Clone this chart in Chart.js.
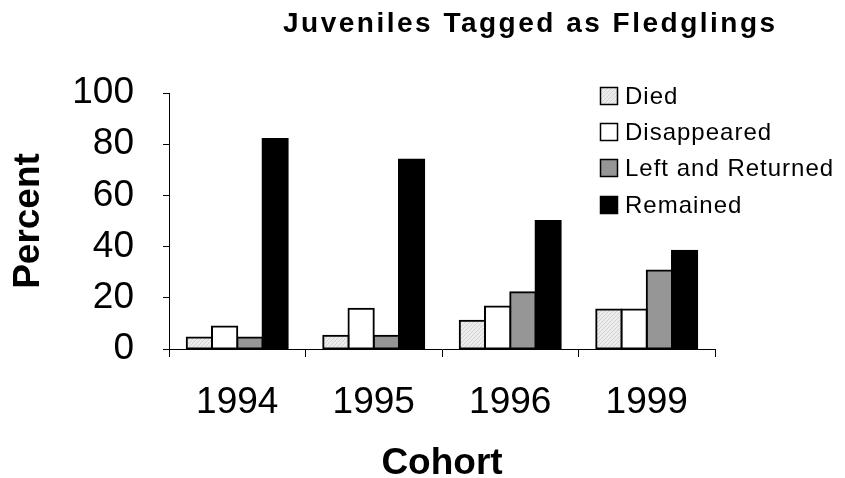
<!DOCTYPE html>
<html>
<head>
<meta charset="utf-8">
<script src="https://cdn.jsdelivr.net/npm/chart.js@4"></script>
<style>
  html, body { margin: 0; padding: 0; background: #fff; }
  #wrap { width: 845px; height: 478px; }
</style>
</head>
<body>
<div id="wrap"><canvas id="chart" width="845" height="478"></canvas></div>
<script>
const cohorts = ["1994", "1995", "1996", "1999"];
const died = [4.5, 5.2, 11, 15.4];
const disappeared = [8.8, 15.7, 16.6, 15.4];
const leftReturned = [4.5, 5.2, 22.2, 30.7];
const remained = [82, 74, 50, 38.4];
const yTicks = [0, 20, 40, 60, 80, 100];

// light hatched fill used for "Died"
function hatchPattern() {
    const c = document.createElement("canvas");
    c.width = 4; c.height = 4;
    const g = c.getContext("2d");
    g.fillStyle = "#ececec";
    g.fillRect(0, 0, 4, 4);
    g.fillStyle = "#d2d2d2";
    g.fillRect(0, 3, 1, 1);
    g.fillRect(1, 2, 1, 1);
    g.fillRect(2, 1, 1, 1);
    g.fillRect(3, 0, 1, 1);
    return g.createPattern(c, "repeat");
}
const diedFill = hatchPattern();

// shared bar look: outline centred on the edge so neighbours share one line
const barStyle = {
    borderColor: "#000",
    borderWidth: 2,
    inflateAmount: 1,
    borderSkipped: false,
    categoryPercentage: 0.74,
    barPercentage: 1.0
};

// title + legend drawn at fixed spots like the original
const extras = {
    id: "extras",
    afterDraw(chart) {
        const ctx = chart.ctx;
        ctx.save();
        ctx.fillStyle = "#000";
        ctx.font = "bold 28px 'Liberation Sans', Arial, sans-serif";
        ctx.letterSpacing = "2.5px";
        ctx.textAlign = "left";
        ctx.textBaseline = "alphabetic";
        ctx.fillText("Juveniles Tagged as Fledglings", 283, 32);

        ctx.font = "24px 'Liberation Sans', Arial, sans-serif";
        ctx.letterSpacing = "1px";
        ctx.textBaseline = "middle";
        const rows = [96, 132, 168, 205];
        chart.data.datasets.forEach((ds, i) => {
            const y = rows[i];
            ctx.fillStyle = ds.backgroundColor;
            ctx.fillRect(600, y - 9, 18, 18);
            ctx.lineWidth = 1.5;
            ctx.strokeStyle = "#000";
            ctx.strokeRect(600.5, y - 8.5, 17, 17);
            ctx.fillStyle = "#000";
            ctx.fillText(ds.label, 625, y + 1);
        });
        ctx.restore();
    }
};

new Chart(document.getElementById("chart"), {
    type: "bar",
    data: {
        labels: cohorts,
        datasets: [
            { label: "Died", data: died, backgroundColor: diedFill, ...barStyle },
            { label: "Disappeared", data: disappeared, backgroundColor: "#ffffff", ...barStyle },
            { label: "Left and Returned", data: leftReturned, backgroundColor: "#969696", ...barStyle },
            { label: "Remained", data: remained, backgroundColor: "#000000", ...barStyle }
        ]
    },
    options: {
        responsive: false,
        animation: false,
        layout: { padding: { top: 93, right: 130, left: 0, bottom: 0 } },
        plugins: {
            legend: { display: false },
            title: { display: false },
            tooltip: { enabled: false }
        },
        scales: {
            x: {
                afterFit: s => { s.height = 129; },
                grid: {
                    offset: true,
                    drawOnChartArea: false,
                    tickLength: 8,
                    color: "#000",
                    lineWidth: 1
                },
                border: { color: "#000", width: 1 },
                ticks: {
                    color: "#000",
                    padding: 24,
                    font: { family: "'Liberation Sans', Arial, sans-serif", size: 37 }
                },
                title: {
                    display: true,
                    text: "Cohort",
                    color: "#000",
                    padding: { top: 0, bottom: 0 },
                    font: { family: "'Liberation Sans', Arial, sans-serif", size: 37, weight: "bold", lineHeight: 0.76 }
                }
            },
            y: {
                min: 0,
                max: 100,
                afterFit: s => { s.width = 169; },
                afterBuildTicks: s => { s.ticks = yTicks.map(v => ({ value: v })); },
                grid: {
                    drawOnChartArea: false,
                    tickLength: 6,
                    color: "#000",
                    lineWidth: 1
                },
                border: { color: "#000", width: 1 },
                ticks: {
                    color: "#000",
                    padding: 29,
                    font: { family: "'Liberation Sans', Arial, sans-serif", size: 37 }
                },
                title: {
                    display: true,
                    text: "Percent",
                    color: "#000",
                    padding: { top: 7, bottom: 0 },
                    font: { family: "'Liberation Sans', Arial, sans-serif", size: 37, weight: "bold" }
                }
            }
        }
    },
    plugins: [extras]
});
</script>
</body>
</html>
